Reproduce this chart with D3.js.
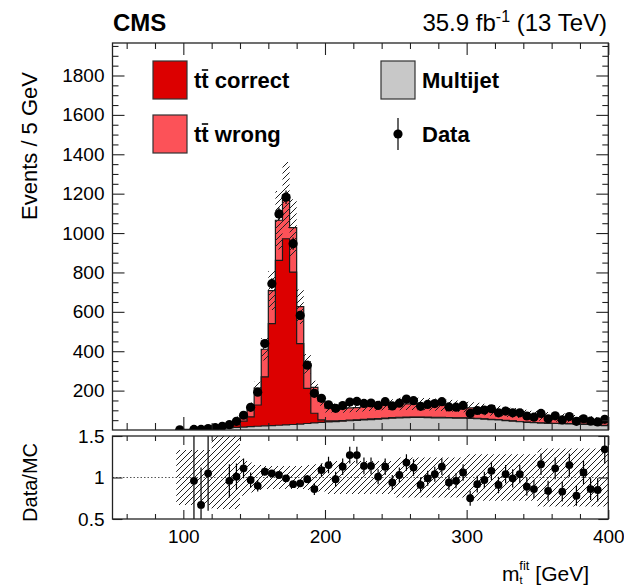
<!DOCTYPE html>
<html>
<head>
<meta charset="utf-8">
<script src="https://cdn.jsdelivr.net/npm/d3@7"></script>
<style>
  body { margin: 0; background: #fff; }
  svg { display: block; }
  text { font-family: "Liberation Sans", Arial, Helvetica, sans-serif; fill: #000; }
</style>
</head>
<body>
<svg id="chart" width="624" height="587"></svg>
<script>
// Reconstructed top-quark mass distribution, 5 GeV bins from 95 to 400 GeV
const binStart = 95, binStop = 400, binWidth = 5;

// Multijet background (events per bin)
const multijet = [1,2,3,4,5,7,9,11,13,15,17,19,21,22,24,26,28,30,33,36,39,41,43,45,47,49,51,53,55,58,60,62,63,64,64,63,62,62,61,60,60,59,57,55,53,51,48,45,42,39,37,35,34,33,32,31,30,29,28,26,22];
// ttbar, correct jet assignment
const ttCorrect = [0,0,0,0,1,1,3,6,14,30,50,108,249,518,837,945,774,409,178,49,12,5,3,3,3,3,3,3,3,3,3,2,2,2,2,2,2,2,2,2,2,2,2,2,1,1,1,1,1,1,1,1,1,1,1,1,1,1,1,1,1];
// ttbar, wrong jet assignment
const ttWrong = [1,1,1,1,1,3,5,11,17,23,51,86,140,168,204,223,226,187,125,131,97,65,66,62,62,62,64,64,66,66,67,68,68,67,66,66,65,63,61,59,56,51,49,47,46,44,43,42,41,40,38,36,33,31,29,27,25,24,23,21,17];
// relative uncertainty of the simulation (up / down)
const uncUp = [0.33,0.33,0.33,0.33,0.33,0.55,0.55,0.55,0.55,0.22,0.18,0.15,0.14,0.14,0.14,0.14,0.14,0.14,0.15,0.16,0.17,0.2,0.2,0.2,0.2,0.2,0.2,0.2,0.2,0.2,0.2,0.24,0.24,0.24,0.24,0.24,0.24,0.24,0.24,0.24,0.24,0.28,0.28,0.28,0.28,0.28,0.28,0.28,0.28,0.28,0.28,0.35,0.35,0.35,0.35,0.35,0.35,0.35,0.35,0.35,0.35];
const uncDown = [0.33,0.33,0.33,0.33,0.33,0.38,0.38,0.38,0.38,0.22,0.18,0.15,0.14,0.14,0.14,0.14,0.14,0.14,0.15,0.16,0.17,0.2,0.2,0.2,0.2,0.2,0.2,0.2,0.2,0.2,0.2,0.24,0.24,0.24,0.24,0.24,0.24,0.24,0.24,0.24,0.24,0.28,0.28,0.28,0.28,0.28,0.28,0.28,0.28,0.28,0.28,0.35,0.35,0.35,0.35,0.35,0.35,0.35,0.35,0.35,0.35];
// observed events per bin (0 = empty bin, not drawn)
const dataCounts = [1,0,3,3,7,12,19,27,44,75,115,192,439,743,1097,1182,946,582,329,186,161,128,110,124,142,145,135,137,125,144,122,136,157,149,120,130,134,144,117,116,125,84,99,101,108,87,96,87,87,71,65,84,57,72,51,68,44,57,45,41,54];
const dataErr = [1,0,2,2,3,3,4,5,7,9,11,14,21,27,33,34,31,24,18,14,13,11,10,11,12,12,12,12,11,12,11,12,13,12,11,11,12,12,11,11,11,9,10,10,10,9,10,9,9,8,8,9,8,8,7,8,7,8,7,6,7];
// data / simulation ratio (null = outside the panel)
const ratio = [null,null,0.96,0.67,1.05,null,null,0.96,1.01,1.11,0.97,0.90,1.07,1.05,1.03,0.99,0.92,0.93,0.98,0.86,1.09,1.15,0.98,1.13,1.27,1.27,1.14,1.14,1.01,1.13,0.94,1.03,1.18,1.12,0.91,0.99,1.04,1.13,0.94,0.96,1.06,0.75,0.92,0.97,1.08,0.91,1.04,0.99,1.04,0.89,0.86,1.16,0.84,1.11,0.83,1.15,0.78,1.06,0.86,0.85,1.34];
const ratioErr = [0,0,0.6,0.45,0.45,0,0,0.2,0.16,0.12,0.09,0.07,0.05,0.04,0.03,0.03,0.03,0.04,0.05,0.07,0.08,0.1,0.09,0.1,0.1,0.1,0.1,0.1,0.09,0.1,0.09,0.09,0.1,0.1,0.09,0.09,0.09,0.1,0.09,0.09,0.1,0.09,0.1,0.1,0.11,0.1,0.11,0.11,0.11,0.11,0.11,0.13,0.12,0.13,0.12,0.14,0.12,0.14,0.13,0.14,0.17];

const xTickMajor = [100, 200, 300, 400];
const yTickMajor = [200, 400, 600, 800, 1000, 1200, 1400, 1600, 1800];
const ratioTicks = [0.5, 1, 1.5];

const colCorrect = "#dc0000", colWrong = "#fc5258", colMultijet = "#c8c8c8";

const svg = d3.select("#chart");
const W = 624, H = 587;

// panel geometry
const x = d3.scaleLinear([50, 400], [112.5, 608.3]);
const yMain = d3.scaleLinear([0, 1965], [430, 43]);
const yRatio = d3.scaleLinear([0.5, 1.5], [519, 436]);

const edges = d3.range(binStart, binStop + 0.01, binWidth);
const centers = edges.slice(0, -1).map(e => e + binWidth / 2);
const cumMj = multijet;
const cumCorr = multijet.map((v, i) => v + ttCorrect[i]);
const total = cumCorr.map((v, i) => v + ttWrong[i]);

const defs = svg.append("defs");
const hatch = defs.append("pattern").attr("id", "hatch")
  .attr("patternUnits", "userSpaceOnUse").attr("width", 6).attr("height", 6);
hatch.append("path").attr("d", "M-1,1 l2,-2 M0,6 l6,-6 M5,7 l2,-2")
  .attr("stroke", "#222").attr("stroke-width", 1);
defs.append("clipPath").attr("id", "clipMain").append("rect")
  .attr("x", x(50)).attr("y", yMain.range()[1]).attr("width", x(400) - x(50)).attr("height", yMain.range()[0] - yMain.range()[1]);
defs.append("clipPath").attr("id", "clipRatio").append("rect")
  .attr("x", x(50)).attr("y", yRatio(1.5)).attr("width", x(400) - x(50)).attr("height", yRatio(0.5) - yRatio(1.5));

svg.append("rect").attr("width", W).attr("height", H).attr("fill", "#fff");

// ---------- main panel ----------
const main = svg.append("g").attr("clip-path", "url(#clipMain)");
const stepPts = vals => {
  const p = vals.map((v, i) => [edges[i], v]);
  p.push([edges[edges.length - 1], vals[vals.length - 1]]);
  return p;
};
const area = d3.area().curve(d3.curveStepAfter)
  .x(d => x(d[0])).y0(yMain(0)).y1(d => yMain(d[1]));
const outline = d3.line().curve(d3.curveStepAfter)
  .x(d => x(d[0])).y(d => yMain(d[1]));
const outlinePts = vals => [[binStart, 0], ...stepPts(vals), [binStop, 0]];

[[total, colWrong], [cumCorr, colCorrect], [cumMj, colMultijet]].forEach(([vals, col]) => {
  main.append("path").attr("d", area(stepPts(vals))).attr("fill", col);
  main.append("path").attr("d", outline(outlinePts(vals)))
    .attr("fill", "none").attr("stroke", "#1a1a1a").attr("stroke-width", 1.2);
});

// uncertainty band on the stack
const band = d3.area().curve(d3.curveStepAfter)
  .x(d => x(d[0])).y0(d => d[1]).y1(d => d[2]);
const mainBand = total.map((t, i) => [edges[i], yMain(t * (1 - uncDown[i])), yMain(t * (1 + uncUp[i]))]);
mainBand.push([binStop, mainBand[mainBand.length - 1][1], mainBand[mainBand.length - 1][2]]);
main.append("path").attr("d", band(mainBand)).attr("fill", "url(#hatch)");

// data points
const pts = centers.map((c, i) => ({ c, v: dataCounts[i], e: dataErr[i] })).filter(d => d.v > 0);
main.selectAll("line.err").data(pts).join("line").attr("class", "err")
  .attr("x1", d => x(d.c)).attr("x2", d => x(d.c))
  .attr("y1", d => yMain(d.v - d.e)).attr("y2", d => yMain(d.v + d.e))
  .attr("stroke", "#000").attr("stroke-width", 1.2);
main.selectAll("circle.pt").data(pts).join("circle").attr("class", "pt")
  .attr("cx", d => x(d.c)).attr("cy", d => yMain(d.v)).attr("r", 4.6).attr("fill", "#000");

// ---------- ratio panel ----------
const rat = svg.append("g").attr("clip-path", "url(#clipRatio)");
rat.append("line").attr("x1", x(50)).attr("x2", x(400)).attr("y1", yRatio(1)).attr("y2", yRatio(1))
  .attr("stroke", "#555").attr("stroke-width", 1).attr("stroke-dasharray", "1.5,2");
const ratioBand = edges.slice(0, -1).map((e, i) => [e, yRatio(1 - uncDown[i]), yRatio(1 + uncUp[i])]);
ratioBand.push([binStop, ratioBand[ratioBand.length - 1][1], ratioBand[ratioBand.length - 1][2]]);
rat.append("path").attr("d", band(ratioBand)).attr("fill", "url(#hatch)");
const rpts = centers.map((c, i) => ({ c, r: ratio[i], e: ratioErr[i] })).filter(d => d.r !== null);
rat.selectAll("line.rerr").data(rpts).join("line").attr("class", "rerr")
  .attr("x1", d => x(d.c)).attr("x2", d => x(d.c))
  .attr("y1", d => yRatio(d.r - d.e)).attr("y2", d => yRatio(d.r + d.e))
  .attr("stroke", "#000").attr("stroke-width", 1.2);
rat.selectAll("circle.rpt").data(rpts).join("circle").attr("class", "rpt")
  .attr("cx", d => x(d.c)).attr("cy", d => yRatio(d.r)).attr("r", 3.9).attr("fill", "#000");

// ---------- axes and frames ----------
const axisStyle = g => {
  g.select(".domain").remove();
  g.selectAll(".tick line").attr("stroke", "#222").attr("stroke-width", 1.1);
  g.selectAll("text").attr("font-size", 19).attr("font-family", "'Liberation Sans', Arial, sans-serif").attr("fill", "#000");
};
const xMinor = d3.range(60, 400, 20).filter(v => v % 100 !== 0);
const yMinor = d3.range(50, 1965, 50).filter(v => v % 200 !== 0);

// main panel: bottom, top, left, right
svg.append("g").attr("transform", `translate(0,${yMain(0)})`)
  .call(d3.axisBottom(x).tickValues(xTickMajor).tickSize(-13).tickFormat("")).call(axisStyle);
svg.append("g").attr("transform", `translate(0,${yMain(0)})`)
  .call(d3.axisBottom(x).tickValues(xMinor).tickSize(-7).tickFormat("")).call(axisStyle);
svg.append("g").attr("transform", `translate(0,${yMain.range()[1]})`)
  .call(d3.axisTop(x).tickValues(xTickMajor).tickSize(-12).tickFormat("")).call(axisStyle);
svg.append("g").attr("transform", `translate(0,${yMain.range()[1]})`)
  .call(d3.axisTop(x).tickValues(xMinor).tickSize(-6).tickFormat("")).call(axisStyle);
svg.append("g").attr("transform", `translate(${x(50)},0)`)
  .call(d3.axisLeft(yMain).tickValues(yTickMajor).tickSize(-12).tickPadding(8).tickFormat(d3.format("d"))).call(axisStyle);
svg.append("g").attr("transform", `translate(${x(50)},0)`)
  .call(d3.axisLeft(yMain).tickValues(yMinor).tickSize(-6).tickFormat("")).call(axisStyle);
svg.append("g").attr("transform", `translate(${x(400)},0)`)
  .call(d3.axisRight(yMain).tickValues(yTickMajor).tickSize(-12).tickFormat("")).call(axisStyle);
svg.append("g").attr("transform", `translate(${x(400)},0)`)
  .call(d3.axisRight(yMain).tickValues(yMinor).tickSize(-6).tickFormat("")).call(axisStyle);

// ratio panel
svg.append("g").attr("transform", `translate(0,${yRatio(0.5)})`)
  .call(d3.axisBottom(x).tickValues(xTickMajor).tickSize(-9).tickPadding(11).tickFormat(d3.format("d"))).call(axisStyle);
svg.append("g").attr("transform", `translate(0,${yRatio(0.5)})`)
  .call(d3.axisBottom(x).tickValues(xMinor).tickSize(-5).tickFormat("")).call(axisStyle);
svg.append("g").attr("transform", `translate(0,${yRatio(1.5)})`)
  .call(d3.axisTop(x).tickValues(xTickMajor).tickSize(-9).tickFormat("")).call(axisStyle);
svg.append("g").attr("transform", `translate(0,${yRatio(1.5)})`)
  .call(d3.axisTop(x).tickValues(xMinor).tickSize(-5).tickFormat("")).call(axisStyle);
svg.append("g").attr("transform", `translate(${x(50)},0)`)
  .call(d3.axisLeft(yRatio).tickValues(ratioTicks).tickSize(-10).tickPadding(8).tickFormat(d3.format("~g"))).call(axisStyle);
svg.append("g").attr("transform", `translate(${x(400)},0)`)
  .call(d3.axisRight(yRatio).tickValues(ratioTicks).tickSize(-10).tickFormat("")).call(axisStyle);

// frames
[[yMain.range()[1], yMain(0)], [yRatio(1.5), yRatio(0.5)]].forEach(([t, b]) => {
  svg.append("rect").attr("x", x(50)).attr("y", t).attr("width", x(400) - x(50)).attr("height", b - t)
    .attr("fill", "none").attr("stroke", "#222").attr("stroke-width", 1.3);
});

// ---------- titles ----------
svg.append("text").attr("x", 113).attr("y", 31).attr("font-size", 24).attr("font-weight", "bold").text("CMS");
const lumi = svg.append("text").attr("x", 607).attr("y", 31).attr("font-size", 24).attr("text-anchor", "end");
lumi.append("tspan").text("35.9 fb");
lumi.append("tspan").attr("font-size", 16).attr("dy", -9).text("-1");
lumi.append("tspan").attr("dy", 9).text(" (13 TeV)");

svg.append("text").attr("transform", "translate(37,72) rotate(-90)").attr("text-anchor", "end")
  .attr("font-size", 22).text("Events / 5 GeV");
svg.append("text").attr("transform", "translate(37,443) rotate(-90)").attr("text-anchor", "end")
  .attr("font-size", 20).text("Data/MC");

// x-axis title: m with subscript t and superscript fit
const xt = svg.append("text").attr("x", 589).attr("y", 581).attr("font-size", 21).attr("text-anchor", "end");
xt.append("tspan").text("m");
xt.append("tspan").attr("font-size", 11).attr("dy", 3).text("t");
xt.append("tspan").attr("font-size", 13).attr("dx", -3.1).attr("dy", -14).text("fit");
xt.append("tspan").attr("dy", 11).text(" [GeV]");

// ---------- legend ----------
const leg = svg.append("g");
const legItems = [
  { kind: "box", col: colCorrect, x: 153, y: 61, label: "correct", tt: true },
  { kind: "box", col: colWrong, x: 153, y: 115, label: "wrong", tt: true },
  { kind: "box", col: colMultijet, x: 381, y: 61, label: "Multijet", tt: false },
  { kind: "data", x: 381, y: 115, label: "Data", tt: false }
];
legItems.forEach(it => {
  if (it.kind === "box") {
    leg.append("rect").attr("x", it.x).attr("y", it.y).attr("width", 34).attr("height", 38)
      .attr("fill", it.col).attr("stroke", "#333").attr("stroke-width", 1.2);
  } else {
    leg.append("line").attr("x1", it.x + 17).attr("x2", it.x + 17).attr("y1", it.y + 3).attr("y2", it.y + 35)
      .attr("stroke", "#000").attr("stroke-width", 1.2);
    leg.append("circle").attr("cx", it.x + 17).attr("cy", it.y + 19).attr("r", 4.6).attr("fill", "#000");
  }
  const t = leg.append("text").attr("x", it.x + 41).attr("y", it.y + 27)
    .attr("font-size", 22).attr("font-weight", "bold");
  if (it.tt) {
    t.append("tspan").text("tt");
    t.append("tspan").text(" " + it.label);
    const node = t.node();
    const w1 = node.getSubStringLength(0, 1), w2 = node.getSubStringLength(0, 2);
    leg.append("line").attr("x1", it.x + 41 + w1 + 0.5).attr("x2", it.x + 41 + w2 - 0.5)
      .attr("y1", it.y + 9).attr("y2", it.y + 9).attr("stroke", "#000").attr("stroke-width", 1.6);
  } else {
    t.text(it.label);
  }
});
</script>
</body>
</html>
